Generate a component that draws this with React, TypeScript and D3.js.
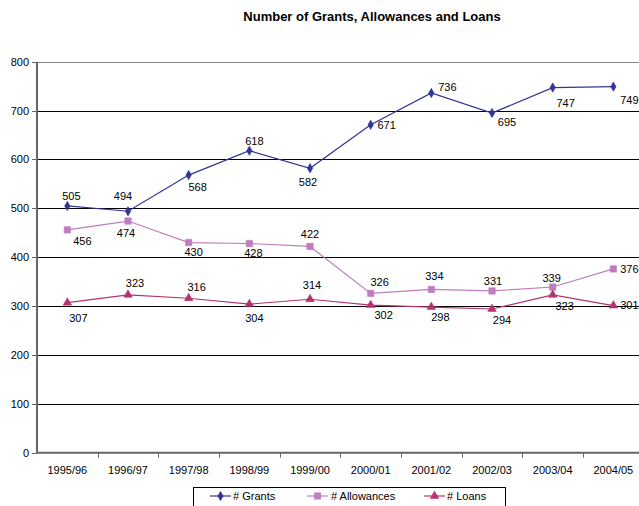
import React from "react";
import * as d3 from "d3";

const title = "Number of Grants, Allowances and Loans";
const years = ["1995/96", "1996/97", "1997/98", "1998/99", "1999/00", "2000/01", "2001/02", "2002/03", "2003/04", "2004/05"];
const grants = [505, 494, 568, 618, 582, 671, 736, 695, 747, 749];
const allowances = [456, 474, 430, 428, 422, 326, 334, 331, 339, 376];
const loans = [307, 323, 316, 304, 314, 302, 298, 294, 323, 301];
const yTicks = [0, 100, 200, 300, 400, 500, 600, 700, 800];

// label placement offsets (dx, dy) relative to each point
const grantsLabelPos = [[4, -10], [-5, -15], [9, 12], [5, -10], [-2, 14], [16, 0], [16, -6], [15, 9], [13, 15], [16, 13]];
const allowancesLabelPos = [[15, 11], [-2, 12], [5, 9], [4, 9], [0, -12], [9, -11], [3, -13], [1, -10], [-1, -9], [16, 0]];
const loansLabelPos = [[11, 15], [7, -12], [8, -11], [5, 14], [2, -14], [13, 10], [9, 10], [10, 11], [12, 11], [16, -1]];

const W = 639;
const H = 506;
const FONT = "'Liberation Sans', Arial, sans-serif";

type Series = { name: string; values: number[]; color: string; marker: string; labels: number[][] };

const series: Series[] = [
  { name: "# Grants", values: grants, color: "#333399", marker: "diamond", labels: grantsLabelPos },
  { name: "# Allowances", values: allowances, color: "#C07CC0", marker: "square", labels: allowancesLabelPos },
  { name: "# Loans", values: loans, color: "#B3336E", marker: "triangle", labels: loansLabelPos },
];

function Marker({ type, x, y, color }: { type: string; x: number; y: number; color: string }) {
  const symType = type === "diamond" ? d3.symbolDiamond : type === "square" ? d3.symbolSquare : d3.symbolTriangle;
  const size = type === "diamond" ? 26 : type === "square" ? 42 : 32;
  const path = d3.symbol().type(symType).size(size)() as string;
  return <path d={path} transform={`translate(${x},${y})`} fill={color} stroke={color} strokeWidth={0.5} />;
}

export default function App() {
  const x = d3.scaleBand<string>().domain(years).range([37, 643.7]).padding(0);
  const cx = (d: string) => (x(d) as number) + x.bandwidth() / 2;
  const y = d3.scaleLinear().domain([0, 800]).range([452.7, 61.7]);
  const line = d3
    .line<number>()
    .x((_, i) => cx(years[i]))
    .y((v) => y(v));

  const legendItems = [
    { lx: 210, tx: 233 },
    { lx: 307, tx: 331 },
    { lx: 424, tx: 447 },
  ];

  return (
    <svg width={W} height={H} style={{ position: "absolute", left: 0, top: 0, background: "#fff" }} fontFamily={FONT}>
      <rect x={0} y={0} width={W} height={H} fill="#fff" />
      <text x={372} y={21} textAnchor="middle" fontSize={13} fontWeight="bold" fill="#000">
        {title}
      </text>
      {/* gridlines */}
      {yTicks.filter((t) => t > 0).map((t) => (
        <line key={t} x1={37} x2={W} y1={Math.round(y(t)) + 0.5} y2={Math.round(y(t)) + 0.5} stroke={t === 800 ? "#888" : "#000"} strokeWidth={1} />
      ))}
      {/* y axis */}
      <line x1={37} x2={37} y1={y(800)} y2={y(0)} stroke="#666" strokeWidth={2} />
      {yTicks.map((t) => (
        <g key={t}>
          <line x1={32} x2={37} y1={Math.round(y(t)) + 0.5} y2={Math.round(y(t)) + 0.5} stroke="#666" strokeWidth={1} />
          <text x={29} y={y(t) + 4} textAnchor="end" fontSize={11} fill="#000">
            {t}
          </text>
        </g>
      ))}
      {/* x axis */}
      <line x1={36} x2={W} y1={y(0)} y2={y(0)} stroke="#666" strokeWidth={2} />
      {years.map((yr, i) => (
        <g key={yr}>
          {i > 0 && <line x1={Math.round(x(yr) as number) + 0.5} x2={Math.round(x(yr) as number) + 0.5} y1={y(0)} y2={y(0) + 5} stroke="#666" strokeWidth={1} />}
          <text x={cx(yr)} y={474} textAnchor="middle" fontSize={11} fill="#000">
            {yr}
          </text>
        </g>
      ))}
      {/* series */}
      {series.map((s) => (
        <g key={s.name}>
          <path d={line(s.values) as string} fill="none" stroke={s.color} strokeWidth={1.2} />
          {s.values.map((v, i) => (
            <Marker key={i} type={s.marker} x={cx(years[i])} y={y(v)} color={s.color} />
          ))}
          {s.values.map((v, i) => (
            <text key={"l" + i} x={cx(years[i]) + s.labels[i][0]} y={y(v) + s.labels[i][1] + 4} textAnchor="middle" fontSize={11} fill="#000">
              {v}
            </text>
          ))}
        </g>
      ))}
      {/* legend */}
      <rect x={193.5} y={487.5} width={312} height={30} fill="#fff" stroke="#000" strokeWidth={1} />
      {series.map((s, i) => (
        <g key={"leg" + s.name}>
          <line x1={legendItems[i].lx} x2={legendItems[i].lx + 21} y1={496} y2={496} stroke={s.color} strokeWidth={1.2} />
          <Marker type={s.marker} x={legendItems[i].lx + 10.5} y={496} color={s.color} />
          <text x={legendItems[i].tx} y={500} fontSize={11} fill="#000">
            {s.name}
          </text>
        </g>
      ))}
    </svg>
  );
}
